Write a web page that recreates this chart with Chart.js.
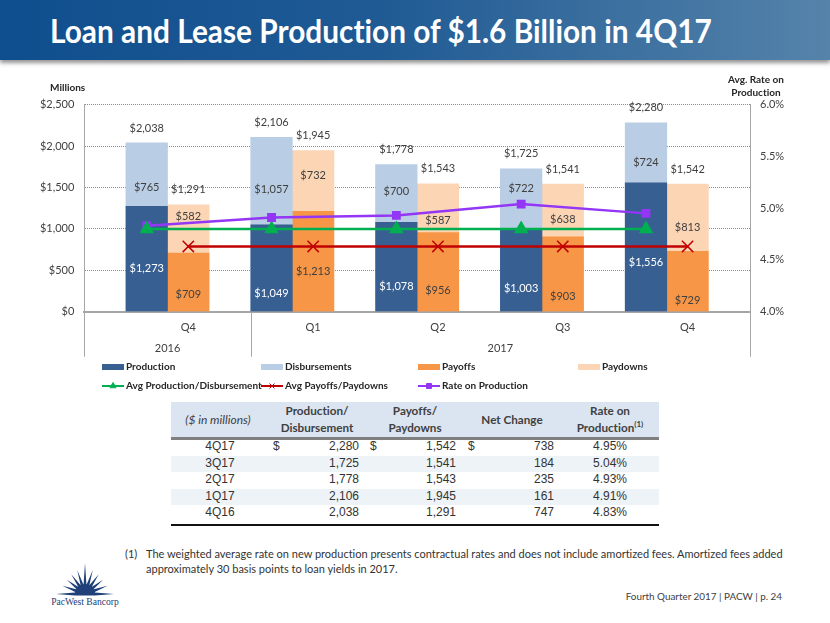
<!DOCTYPE html>
<html>
<head>
<meta charset="utf-8">
<title>Loan and Lease Production</title>
<script src="https://cdn.jsdelivr.net/npm/chart.js@4"></script>
<style>
  html, body { margin: 0; padding: 0; background: #fff; }
  #page { position: relative; width: 830px; height: 623px; overflow: hidden; font-family: Lato, sans-serif; color: #404040; }
  #banner { position: absolute; left: 0; top: 0; width: 830px; height: 60px;
    background: linear-gradient(90deg, #0f4e8e 0%, #1f5a94 45%, #5583aa 100%);
    box-shadow: 0 3px 4px rgba(90,90,90,.65); }
  #title { position: absolute; left: 50px; top: 11px; font: bold 32px Lato, sans-serif; color: #fff; white-space: nowrap; transform: scaleX(.932); transform-origin: left; }
  #grafico { position: absolute; left: 0; top: 70px; }
  .eixo { position: absolute; font: bold 10px Lato, sans-serif; color: #262626; text-align: center; line-height: 13px; white-space: nowrap; }
  #tabela { position: absolute; left: 171px; top: 402px; width: 488px; height: 124px; }
  #tabela div { position: absolute; white-space: nowrap; }
  .cab { font: bold 11.7px/17px Lato, sans-serif; color: #404040; text-align: center; transform: translateX(-50%); }
  .cel { font: 12px/16px "Liberation Sans", sans-serif; color: #333; }
  #nota { position: absolute; left: 125px; top: 546px; width: 690px; font: 11px/15px Lato, sans-serif; color: #333; white-space: nowrap; }
  #rodape { position: absolute; right: 48px; top: 590px; font: 9.9px Lato, sans-serif; color: #404040; }
  #logo { position: absolute; left: 48px; top: 558px; }
  #page, #page * { font-variant-ligatures: none; }
</style>
</head>
<body>
<div id="page">
  <div id="banner"></div>
  <div id="title">Loan and Lease Production of $1.6 Billion in 4Q17</div>
  <canvas id="grafico" width="830" height="330"></canvas>
  <div class="eixo" style="left:50px;top:81px">Millions</div>
  <div class="eixo" style="left:728px;top:73px">Avg. Rate on<br>Production</div>
  <div id="tabela"></div>
  <div id="nota"><span style="position:absolute;left:0">(1)</span><div style="margin-left:21px">The weighted average rate on new production presents contractual rates and does not include amortized fees. Amortized fees added<br>approximately 30 basis points to loan yields in 2017.</div></div>
  <svg id="logo" width="76" height="56"></svg>
  <div id="rodape">Fourth Quarter 2017 | PACW | p. 24</div>
</div>
<script>
const trimestres = ['Q4', 'Q1', 'Q2', 'Q3', 'Q4']
const anos = ['2016', '2017']
const production = [1273, 1049, 1078, 1003, 1556]
const disbursements = [765, 1057, 700, 722, 724]
const payoffs = [709, 1213, 956, 903, 729]
const paydowns = [582, 732, 587, 638, 813]
const totalProducao = [2038, 2106, 1778, 1725, 2280]
const totalPagamentos = [1291, 1945, 1543, 1541, 1542]
const avgProducao = [4.80, 4.80, 4.80, 4.80, 4.80]
const avgPagamentos = [4.63, 4.63, 4.63, 4.63, 4.63]
const rate = [4.83, 4.91, 4.93, 5.04, 4.95]

const linhasTabela = ['4Q16', '1Q17', '2Q17', '3Q17', '4Q17']
const netChange = [747, 161, 235, 184, 738]

// the chart has 16 slots: a gap, then 2 bars per quarter with a gap between
const SLOTS = 16
const slotsProducao = [1, 4, 7, 10, 13]
const slotsPagamentos = [2, 5, 8, 11, 14]

function emSlots(valores, slots){
  const saida = new Array(SLOTS).fill(null)
  slots.forEach((s, i) => { saida[s] = valores[i] })
  return saida
}

const rotulos = emSlots(trimestres, slotsPagamentos).map(r => r || '')

// labels were moved by hand in the original, px from the middle of each segment
const ajusteProduction = [10, 25, 20, 19, 15.5]
const ajusteDisb = [13, 8, -2, -10, 9.5]
const ajustePayoffs = [12, 10.5, 18.5, 22.5, 19.5]
const ajustePaydowns = [-12, -6, 12.5, 8.5, 9.5]
const ajusteTotal = -15

const dinheiro = v => '$' + v.toLocaleString('en-US')

const rotulosPlugin = {
  id: 'rotulos',
  afterDatasetsDraw(chart){
    const ctx = chart.ctx
    ctx.save()
    ctx.font = '11px Lato'
    ctx.textAlign = 'center'
    ctx.textBaseline = 'middle'
    const segmentos = [
      [0, production, slotsProducao, ajusteProduction, '#ffffff'],
      [1, disbursements, slotsProducao, ajusteDisb, '#404040'],
      [2, payoffs, slotsPagamentos, ajustePayoffs, '#404040'],
      [3, paydowns, slotsPagamentos, ajustePaydowns, '#404040']
    ]
    for(const [d, valores, slots, ajuste, cor] of segmentos){
      const meta = chart.getDatasetMeta(d)
      valores.forEach((v, i) => {
        const barra = meta.data[slots[i]]
        ctx.fillStyle = cor
        ctx.fillText(dinheiro(v), barra.x, (barra.y + barra.base) / 2 + ajuste[i])
      })
    }
    ctx.fillStyle = '#404040'
    totalProducao.forEach((v, i) => {
      const barra = chart.getDatasetMeta(1).data[slotsProducao[i]]
      ctx.fillText(dinheiro(v), barra.x, barra.y + ajusteTotal)
    })
    totalPagamentos.forEach((v, i) => {
      const barra = chart.getDatasetMeta(3).data[slotsPagamentos[i]]
      ctx.fillText(dinheiro(v), barra.x, barra.y + ajusteTotal)
    })
    ctx.restore()
  }
}

// year row under the quarters, with its separators
const anosPlugin = {
  id: 'anos',
  afterDraw(chart){
    const ctx = chart.ctx
    const x = chart.scales.x
    const meio = x.getPixelForValue(1) - x.getPixelForValue(0)
    const borda = s => x.getPixelForValue(0) - meio / 2 + s * meio
    const base = chart.chartArea.bottom
    ctx.save()
    ctx.strokeStyle = '#a6a6a6'
    ctx.lineWidth = 1
    for(const s of [0, 4, SLOTS]){
      ctx.beginPath()
      ctx.moveTo(Math.round(borda(s)) + 0.5, base)
      ctx.lineTo(Math.round(borda(s)) + 0.5, base + 45)
      ctx.stroke()
    }
    ctx.fillStyle = '#404040'
    ctx.font = '11px Lato'
    ctx.textAlign = 'center'
    ctx.textBaseline = 'middle'
    ctx.fillText(anos[0], (borda(0) + borda(4)) / 2, base + 37)
    ctx.fillText(anos[1], (borda(4) + borda(SLOTS)) / 2, base + 37)
    ctx.restore()
  }
}

// legend sits on fixed columns, chart.js legend can not do that
const colunasLegenda = [102, 261, 418, 578]
const legendaPlugin = {
  id: 'legenda',
  afterDraw(chart){
    const ctx = chart.ctx
    ctx.save()
    ctx.font = 'bold 10px Lato'
    ctx.letterSpacing = '0.01px'
    ctx.textBaseline = 'middle'
    chart.data.datasets.forEach((d, i) => {
      const x = colunasLegenda[d.type === 'line' ? i - 4 : i]
      const y = d.type === 'line' ? 316 : 297
      if(d.type === 'line'){
        ctx.strokeStyle = d.borderColor
        ctx.lineWidth = 2
        ctx.beginPath()
        ctx.moveTo(x, y)
        ctx.lineTo(x + 22, y)
        ctx.stroke()
        ctx.fillStyle = d.pointBackgroundColor
        ctx.strokeStyle = d.pointBorderColor
        ctx.lineWidth = 1
        Chart.helpers.drawPoint(ctx, { pointStyle: d.pointStyle, radius: 3.5, borderWidth: 1 }, x + 11, y)
      }else{
        ctx.fillStyle = d.backgroundColor
        ctx.fillRect(x, y - 3, 22, 6)
      }
      ctx.fillStyle = '#262626'
      ctx.fillText(d.label, x + 24, y)
    })
    ctx.restore()
  }
}

const barra = (label, dados, cor) => ({
  type: 'bar', label, data: dados, backgroundColor: cor, yAxisID: 'y', order: 2,
  barPercentage: 1, categoryPercentage: 1, borderWidth: 0
})
const linha = (label, dados, cor, ponto, raio) => ({
  type: 'line', label, data: dados, borderColor: cor, pointBackgroundColor: cor, pointBorderColor: cor,
  pointStyle: ponto, pointRadius: raio, pointBorderWidth: 1.5, borderWidth: 2.5,
  yAxisID: 'y1', spanGaps: true, tension: 0, order: 1
})

const g1 = document.getElementById('grafico')

new Chart(g1, {
  data: {
    labels: rotulos,
    datasets: [
      barra('Production', emSlots(production, slotsProducao), '#375f92'),
      barra('Disbursements', emSlots(disbursements, slotsProducao), '#b9cde5'),
      barra('Payoffs', emSlots(payoffs, slotsPagamentos), '#f79646'),
      barra('Paydowns', emSlots(paydowns, slotsPagamentos), '#fcd5b5'),
      linha('Avg Production/Disbursement', emSlots(avgProducao, slotsProducao), '#00b050', 'triangle', 7),
      linha('Avg Payoffs/Paydowns', emSlots(avgPagamentos, slotsPagamentos), '#c00000', 'crossRot', 8),
      linha('Rate on Production', emSlots(rate, slotsProducao), '#9336f5', 'rect', 5.2)
    ]
  },
  options: {
    responsive: false,
    animation: false,
    devicePixelRatio: 1,
    layout: { padding: { top: 34.7, left: 0, right: 0, bottom: 0 } },
    plugins: { legend: { display: false }, tooltip: { enabled: false } },
    scales: {
      x: {
        stacked: true,
        afterFit(s){ s.height = 88.3 },
        grid: { display: false, drawTicks: false },
        border: { color: '#a6a6a6', width: 2 },
        ticks: { autoSkip: false, maxRotation: 0, padding: 9, color: '#404040', font: { family: 'Lato', size: 11 } }
      },
      y: {
        stacked: true,
        min: 0,
        max: 2500,
        afterFit(s){ s.width = 84.3 },
        grid: { color: '#8c8c8c', lineWidth: 1, drawTicks: false, tickBorderDash: [1, 1] },
        border: { color: '#a6a6a6', dash: [1, 1], display: true },
        ticks: { stepSize: 500, padding: 10, color: '#404040', font: { family: 'Lato', size: 11 }, callback: v => dinheiro(v) }
      },
      y1: {
        position: 'right',
        min: 4,
        max: 6,
        afterFit(s){ s.width = 80 },
        grid: { display: false, drawTicks: false },
        border: { color: '#a6a6a6' },
        ticks: { stepSize: 0.5, padding: 10, color: '#404040', font: { family: 'Lato', size: 11 }, callback: v => v.toFixed(1) + '%' }
      }
    }
  },
  plugins: [rotulosPlugin, anosPlugin, legendaPlugin]
})

// table, newest quarter first
const tabela = document.getElementById('tabela')

function caixa(css, html, classe){
  const d = document.createElement('div')
  d.style.cssText = css
  d.innerHTML = html
  if(classe) d.className = classe
  tabela.appendChild(d)
}

caixa('left:0;top:0;width:488px;height:35px;background:#dbe5f1', '')
caixa('left:0;top:35px;width:488px;height:2.5px;background:#7f7f7f', '')
caixa('left:47px;top:9px;font-style:italic;font-weight:normal;font-size:12px', '($ in millions)', 'cab')
caixa('left:146px;top:0', 'Production/<br>Disbursement', 'cab')
caixa('left:244px;top:0', 'Payoffs/<br>Paydowns', 'cab')
caixa('left:341px;top:9px', 'Net Change', 'cab')
caixa('left:439px;top:0', 'Rate on<br>Production<sup style="font-size:8px;line-height:0">(1)</sup>', 'cab')

for(let i = 0; i < 5; i++){
  const j = 4 - i
  const y = 36 + i * 16.6
  if(i % 2 === 1) caixa(`left:0;top:${y + 1}px;width:488px;height:16.6px;background:#eef3f8`, '')
  caixa(`left:49px;top:${y}px;transform:translateX(-50%)`, linhasTabela[j], 'cel')
  caixa(`right:300px;top:${y}px`, totalProducao[j].toLocaleString('en-US'), 'cel')
  caixa(`right:203px;top:${y}px`, totalPagamentos[j].toLocaleString('en-US'), 'cel')
  caixa(`right:105px;top:${y}px`, netChange[j].toLocaleString('en-US'), 'cel')
  caixa(`left:439px;top:${y}px;transform:translateX(-50%)`, rate[j].toFixed(2) + '%', 'cel')
  if(i === 0){
    caixa(`left:102px;top:${y}px`, '$', 'cel')
    caixa(`left:199px;top:${y}px`, '$', 'cel')
    caixa(`left:297px;top:${y}px`, '$', 'cel')
  }
}
caixa('left:0;top:121.5px;width:488px;height:2.5px;background:#111', '')

// logo sunburst
const logo = document.getElementById('logo')
const angulos = [0, 20, 38, 55, 72, 90, 108, 125, 142, 160, 180]
const raios = [29, 24, 23, 24, 25, 31, 25, 24, 23, 24, 29]
let pontos = ''
angulos.forEach((a, i) => {
  const rad = a * Math.PI / 180
  const w = 8 * Math.PI / 180
  pontos += `${37 + 10 * Math.cos(rad - w)},${36 - 10 * Math.sin(rad - w)} `
  pontos += `${37 + raios[i] * Math.cos(rad)},${36 - raios[i] * Math.sin(rad)} `
  pontos += `${37 + 10 * Math.cos(rad + w)},${36 - 10 * Math.sin(rad + w)} `
})
logo.innerHTML = `<polygon points="${pontos}" fill="#1f4078"/>` +
  `<text x="37" y="47" text-anchor="middle" font-family="Liberation Serif" font-size="9.6" fill="#1f4078">PacWest Bancorp</text>`
</script>
</body>
</html>
